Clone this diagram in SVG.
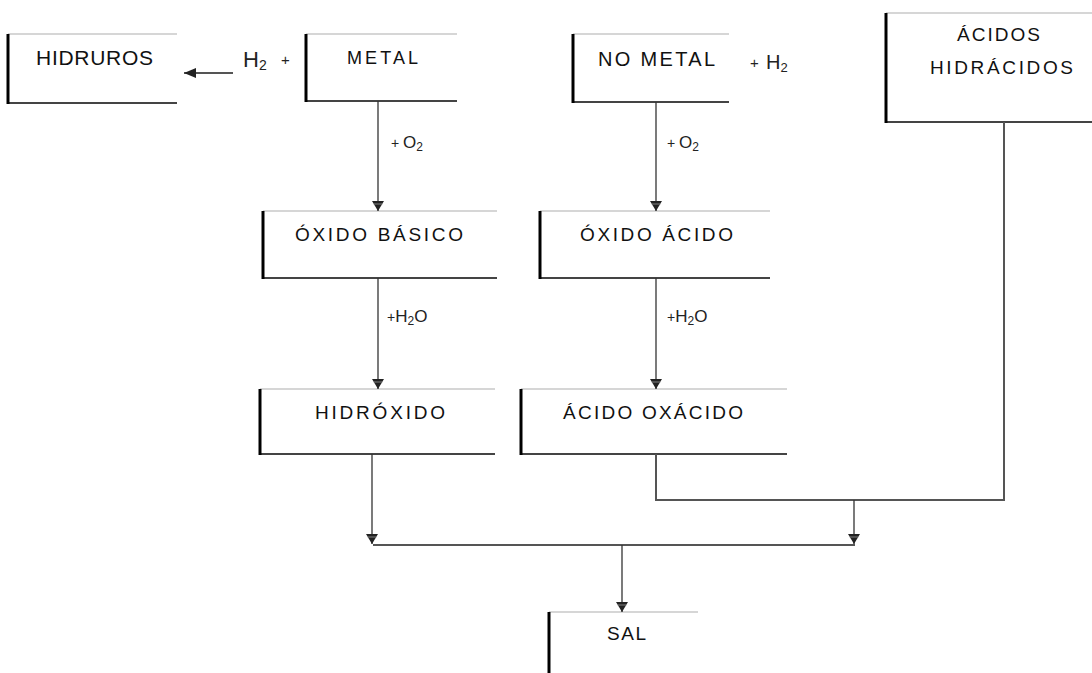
<svg xmlns="http://www.w3.org/2000/svg" width="1092" height="673" viewBox="0 0 1092 673">
  <defs>
    <style>
      .t { font-family: "Liberation Sans", Arial, sans-serif; fill: #111; }
      .lbl { font-family: "Liberation Sans", Arial, sans-serif; fill: #222; }
      .top { stroke: #c8c8c8; stroke-width: 1.5; fill: none; }
      .left { stroke: #000; stroke-width: 3; fill: none; }
      .bot { stroke: #444; stroke-width: 2; fill: none; }
      .c { stroke: #333; stroke-width: 1.3; fill: none; }
      .h { stroke: #555; stroke-width: 2; fill: none; }
    </style>
    <marker id="arr" markerUnits="userSpaceOnUse" markerWidth="12" markerHeight="12" refX="10" refY="6" orient="auto">
      <path d="M0,0 L10,6 L0,12 z" fill="#222"/>
      <path d="M3,1.5 L3,10.5" stroke="#999" stroke-width="0.8"/>
    </marker>
    <marker id="arrL" markerUnits="userSpaceOnUse" markerWidth="14" markerHeight="12" refX="12" refY="5" orient="auto">
      <path d="M0,0 L12,5 L0,10 z" fill="#222"/>
    </marker>
  </defs>

  <g id="hidruros">
    <path class="top" d="M8,34 H177"/>
    <path class="bot" d="M8,103 H177"/>
    <path class="left" d="M8,34 V104"/>
    <text class="t" x="94.5" y="65" font-size="21" text-anchor="middle" textLength="117" lengthAdjust="spacing">HIDRUROS</text>
  </g>

  <g id="metal">
    <path class="top" d="M306,34 H457"/>
    <path class="bot" d="M306,101 H457"/>
    <path class="left" d="M306,34 V102"/>
    <text class="t" x="382.5" y="64" font-size="18" text-anchor="middle" textLength="71" lengthAdjust="spacing">METAL</text>
  </g>

  <g id="nometal">
    <path class="top" d="M573,34 H729"/>
    <path class="bot" d="M573,102 H729"/>
    <path class="left" d="M573,34 V103"/>
    <text class="t" x="656.5" y="66" font-size="20" text-anchor="middle" textLength="117" lengthAdjust="spacing">NO METAL</text>
  </g>

  <g id="acidos-hidracidos">
    <path class="top" d="M886,13 H1092"/>
    <path class="bot" d="M886,122 H1092"/>
    <path class="left" d="M886,13 V123"/>
    <text class="t" x="998.5" y="41" font-size="19" text-anchor="middle" textLength="83" lengthAdjust="spacing">ÁCIDOS</text>
    <text class="t" x="1001.5" y="74" font-size="19" text-anchor="middle" textLength="143" lengthAdjust="spacing">HIDRÁCIDOS</text>
  </g>

  <g id="oxido-basico">
    <path class="top" d="M263,211 H497"/>
    <path class="bot" d="M263,278 H497"/>
    <path class="left" d="M263,211 V279"/>
    <text class="t" x="379" y="241" font-size="19" text-anchor="middle" textLength="168" lengthAdjust="spacing">ÓXIDO BÁSICO</text>
  </g>

  <g id="oxido-acido">
    <path class="top" d="M540,211 H770"/>
    <path class="bot" d="M540,278 H770"/>
    <path class="left" d="M540,211 V279"/>
    <text class="t" x="656.5" y="241" font-size="19" text-anchor="middle" textLength="153" lengthAdjust="spacing">ÓXIDO ÁCIDO</text>
  </g>

  <g id="hidroxido">
    <path class="top" d="M260,389 H495"/>
    <path class="bot" d="M260,454 H495"/>
    <path class="left" d="M260,389 V455"/>
    <text class="t" x="380" y="419" font-size="19" text-anchor="middle" textLength="130" lengthAdjust="spacing">HIDRÓXIDO</text>
  </g>

  <g id="acido-oxacido">
    <path class="top" d="M521,389 H787"/>
    <path class="bot" d="M521,454 H787"/>
    <path class="left" d="M521,389 V455"/>
    <text class="t" x="653" y="419" font-size="19" text-anchor="middle" textLength="180" lengthAdjust="spacing">ÁCIDO OXÁCIDO</text>
  </g>

  <g id="sal">
    <path class="top" d="M549,612 H698"/>
    <path class="left" d="M549,612 V673"/>
    <text class="t" x="626.5" y="640" font-size="19" text-anchor="middle" textLength="39" lengthAdjust="spacing">SAL</text>
  </g>

  <g id="connectors">
    <path class="h" d="M233,73 H184" marker-end="url(#arrL)"/>
    <path class="c" d="M378,101 V211" marker-end="url(#arr)"/>
    <path class="c" d="M656,102 V211" marker-end="url(#arr)"/>
    <path class="c" d="M378,278 V389" marker-end="url(#arr)"/>
    <path class="c" d="M656,278 V389" marker-end="url(#arr)"/>
    <path class="c" d="M372,454 V544" marker-end="url(#arr)"/>
    <path class="h" d="M656,454 V500 H1004 V122"/>
    <path class="c" d="M854,500 V544" marker-end="url(#arr)"/>
    <path class="h" d="M373,545 H855"/>
    <path class="c" d="M622,545 V612" marker-end="url(#arr)"/>
  </g>

  <g id="labels">
    <text class="lbl" x="243" y="67" font-size="22">H<tspan font-size="14" dy="3">2</tspan></text>
    <text class="lbl" x="281" y="65" font-size="15">+</text>
    <text class="lbl" x="750" y="68" font-size="15">+</text>
    <text class="lbl" x="766" y="69" font-size="20">H<tspan font-size="13" dy="3">2</tspan></text>
    <text class="lbl" x="391" y="148" font-size="14">+ <tspan font-size="17">O</tspan><tspan font-size="12" dy="3">2</tspan></text>
    <text class="lbl" x="667" y="148" font-size="14">+ <tspan font-size="17">O</tspan><tspan font-size="12" dy="3">2</tspan></text>
    <text class="lbl" x="387" y="322" font-size="14">+<tspan font-size="17">H</tspan><tspan font-size="12" dy="3">2</tspan><tspan font-size="17" dy="-3">O</tspan></text>
    <text class="lbl" x="667" y="322" font-size="14">+<tspan font-size="17">H</tspan><tspan font-size="12" dy="3">2</tspan><tspan font-size="17" dy="-3">O</tspan></text>
  </g>
</svg>
